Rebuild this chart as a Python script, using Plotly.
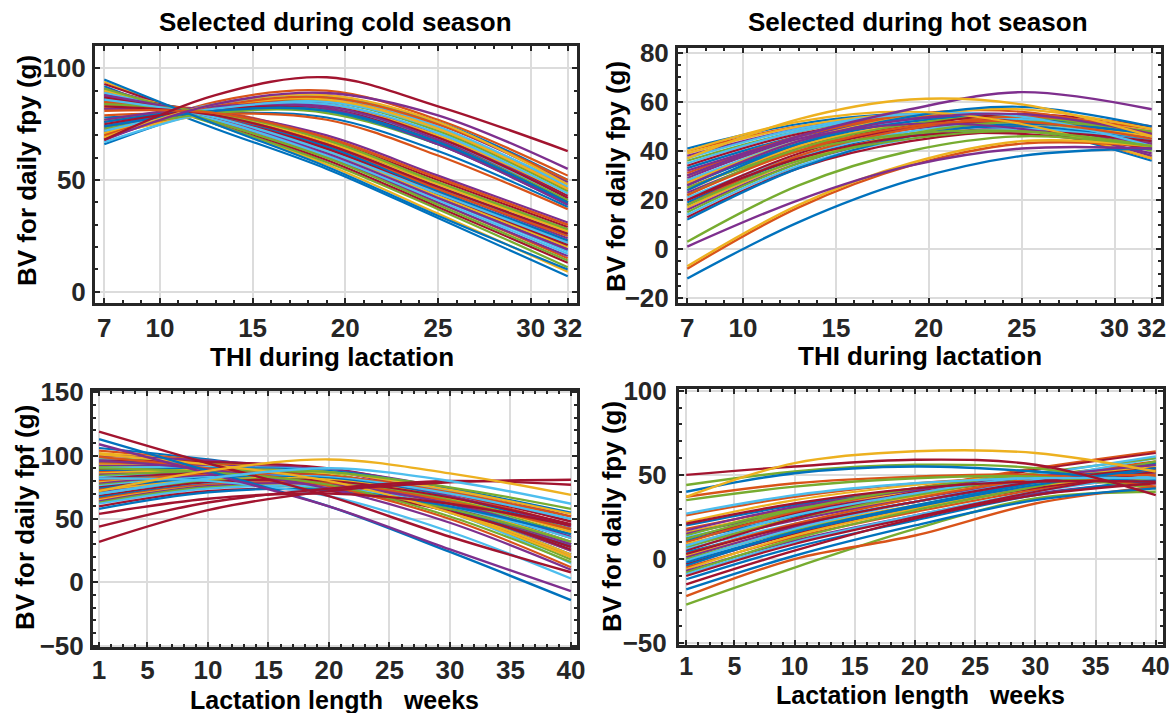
import itertools
import plotly.graph_objects as go

# MATLAB default line colour order
PALETTE = ["#0072BD", "#D95319", "#EDB120", "#7E2F8E", "#77AC30", "#4DBEEE", "#A2142F"]
C = dict(zip(["blue", "orange", "yellow", "purple", "green", "lightblue", "red"], PALETTE))

# ---------------- Selected during cold season : BV for daily fpy vs THI ----------------
thi_knots = [7, 13, 19, 25, 32]

cold_thi_upper = [
    [68, 85, 90, 77, 52], [70, 84, 88, 75, 49], [72, 84, 87, 74, 47], [66, 82, 87, 76, 50],
    [74, 83, 86, 72, 45], [71, 82, 85, 72, 45], [76, 83, 84, 70, 43], [69, 82, 86, 73, 46],
    [73, 82, 84, 70, 42], [75, 81, 82, 68, 41], [78, 80, 78, 63, 38], [70, 80, 83, 70, 44],
    [77, 81, 80, 66, 40], [72, 81, 83, 69, 42], [79, 80, 77, 61, 37], [74, 82, 83, 68, 40],
    [67, 81, 85, 73, 48], [76, 82, 81, 66, 39], [71, 83, 86, 73, 46], [73, 80, 81, 67, 41],
    [75, 82, 82, 67, 40], [70, 83, 87, 75, 50], [77, 83, 82, 66, 39], [72, 82, 84, 71, 44],
    [74, 81, 81, 67, 40], [69, 84, 88, 76, 48],
]
cold_thi_lower = [
    [92, 73, 55, 33, 7], [94, 75, 57, 35, 9], [90, 75, 58, 37, 11], [93, 76, 59, 38, 13],
    [89, 76, 60, 40, 15], [91, 77, 61, 40, 16], [88, 77, 62, 42, 18], [87, 78, 63, 43, 19],
    [90, 78, 63, 43, 20], [86, 78, 64, 44, 21], [88, 79, 64, 45, 22], [85, 78, 65, 45, 23],
    [87, 79, 65, 46, 24], [84, 79, 66, 47, 25], [86, 80, 66, 47, 26], [83, 79, 67, 48, 27],
    [85, 80, 67, 49, 28], [82, 80, 68, 50, 29], [84, 81, 69, 51, 30], [82, 80, 70, 52, 31],
    [89, 77, 61, 41, 17], [86, 79, 65, 45, 23], [83, 80, 67, 49, 27], [91, 76, 60, 39, 14],
    [87, 78, 64, 44, 21], [85, 79, 66, 46, 25], [88, 78, 62, 42, 19], [84, 80, 68, 49, 28],
    [86, 78, 63, 44, 22], [83, 79, 66, 47, 26], [95, 75, 56, 34, 10], [81, 80, 69, 51, 30],
]
cold_thi_special = [[68, 84, 89, 79, 55], [68, 88, 96, 83, 63]]
cold_thi_special_colors = ["purple", "red"]

# ---------------- Selected during hot season : BV for daily fpy vs THI ----------------
hot_thi_main = [
    [41, 51, 55, 50, 36], [40, 50, 54, 50, 37], [39, 50, 55, 52, 38], [38, 49, 54, 51, 38],
    [36, 48, 54, 52, 40], [35, 48, 55, 53, 41], [34, 47, 53, 52, 41], [33, 46, 53, 53, 43],
    [31, 46, 54, 54, 44], [30, 44, 51, 51, 42], [29, 45, 53, 54, 45], [28, 43, 50, 51, 42],
    [28, 44, 52, 53, 44], [27, 42, 50, 51, 43], [26, 43, 52, 54, 46], [25, 41, 49, 51, 43],
    [24, 42, 51, 54, 48], [23, 40, 49, 51, 44], [22, 41, 51, 54, 47], [21, 38, 48, 51, 44],
    [20, 39, 50, 55, 50], [19, 37, 47, 50, 44], [18, 38, 49, 54, 49], [17, 36, 47, 51, 46],
    [16, 35, 46, 49, 43], [15, 35, 47, 52, 48], [14, 34, 45, 49, 44], [13, 33, 44, 48, 44],
    [12, 33, 46, 51, 47], [30, 46, 55, 56, 47], [27, 44, 54, 57, 49], [32, 45, 51, 49, 39],
    [25, 40, 47, 48, 41], [37, 49, 55, 54, 42], [20, 37, 46, 47, 41], [24, 43, 54, 58, 50],
    [22, 40, 50, 52, 45], [40, 52, 56, 51, 37], [26, 44, 53, 55, 47], [18, 36, 45, 48, 42],
]
hot_thi_special = [
    [-12, 11, 28, 38, 41], [-8, 17, 34, 43, 42], [-7, 18, 35, 44, 42],
    [1, 20, 34, 41, 41], [3, 26, 40, 46, 42], [30, 46, 57, 64, 57], [37, 53, 61, 59, 46],
]
hot_thi_special_colors = ["blue", "orange", "yellow", "purple", "green", "purple", "yellow"]

# ---------------- Selected during cold season : BV for daily fpf vs lactation week ----------------
week_knots = [1, 10, 20, 30, 40]

cold_week_main = [
    [106, 97, 84, 60, 30], [104, 96, 85, 63, 35], [102, 95, 83, 58, 25], [100, 96, 88, 68, 40],
    [98, 94, 86, 65, 38], [97, 93, 85, 64, 36], [96, 95, 90, 72, 48], [95, 92, 84, 62, 32],
    [94, 93, 88, 70, 45], [93, 91, 85, 66, 40], [92, 92, 89, 74, 52], [91, 90, 84, 64, 35],
    [90, 91, 88, 72, 50], [89, 88, 82, 61, 30], [88, 90, 88, 74, 55], [87, 87, 81, 60, 28],
    [86, 89, 87, 73, 54], [85, 86, 80, 58, 25], [84, 88, 87, 75, 58], [83, 85, 80, 60, 30],
    [82, 86, 84, 70, 48], [81, 84, 79, 57, 22], [80, 85, 84, 71, 52], [79, 83, 79, 60, 32],
    [78, 84, 83, 68, 44], [77, 82, 78, 55, 18], [76, 83, 83, 70, 50], [75, 81, 78, 58, 26],
    [74, 82, 82, 67, 42], [73, 80, 77, 56, 20], [72, 81, 81, 66, 40], [71, 79, 77, 59, 30],
    [70, 80, 80, 65, 42], [69, 78, 76, 55, 15], [68, 79, 80, 67, 46], [67, 77, 75, 57, 28],
    [66, 77, 78, 64, 42], [65, 76, 75, 56, 22], [64, 76, 77, 62, 36], [63, 75, 74, 58, 32],
    [62, 74, 75, 60, 35], [60, 72, 72, 56, 28], [58, 71, 73, 60, 38], [99, 90, 76, 50, 12],
    [101, 93, 80, 55, 20], [96, 89, 74, 47, 10], [90, 87, 77, 52, 16], [82, 80, 68, 40, 3],
]
cold_week_special = [
    [119, 94, 68, 36, 8], [113, 88, 60, 24, -14], [109, 86, 60, 26, -7],
    [32, 57, 72, 79, 81], [44, 63, 74, 80, 77], [54, 66, 70, 62, 45],
    [72, 88, 97, 86, 69], [70, 82, 90, 80, 62],
]
cold_week_special_colors = ["red", "blue", "purple", "red", "red", "red", "yellow", "lightblue"]

# ---------------- Selected during hot season : BV for daily fpy vs lactation week ----------------
hot_week_main = [
    [20, 32, 42, 48, 50], [18, 30, 40, 47, 50], [16, 29, 40, 48, 52], [15, 28, 39, 47, 51],
    [14, 30, 42, 50, 54], [13, 26, 37, 45, 48], [12, 27, 39, 48, 53], [11, 25, 37, 46, 50],
    [10, 28, 42, 54, 64], [9, 24, 37, 47, 54], [8, 23, 36, 46, 52], [7, 24, 38, 49, 57],
    [6, 21, 34, 44, 49], [5, 24, 40, 53, 63], [4, 20, 34, 45, 52], [3, 21, 36, 48, 58],
    [2, 18, 32, 43, 50], [1, 19, 34, 46, 56], [0, 17, 31, 42, 48], [-1, 18, 34, 47, 60],
    [-3, 15, 30, 42, 50], [-4, 16, 32, 45, 57], [-5, 13, 28, 41, 49], [-6, 14, 30, 44, 55],
    [-7, 11, 26, 39, 46], [-8, 12, 29, 43, 58], [-9, 10, 26, 40, 50], [-10, 9, 25, 40, 52],
    [-12, 7, 23, 38, 47], [26, 37, 45, 49, 50], [22, 35, 44, 50, 54], [17, 31, 41, 49, 56],
    [12, 29, 42, 51, 60], [8, 26, 39, 50, 61], [3, 20, 34, 46, 54], [-2, 16, 31, 44, 54],
]
hot_week_special = [
    [44, 52, 56, 54, 42], [40, 51, 55, 52, 45], [37, 45, 49, 50, 43], [35, 43, 48, 49, 42],
    [27, 38, 45, 48, 48], [21, 33, 42, 46, 46], [-27, -5, 18, 36, 40], [-22, 0, 14, 33, 43],
    [-18, 2, 20, 35, 42], [-15, 5, 24, 38, 45], [50, 55, 59, 56, 38], [37, 57, 64, 63, 52],
]
hot_week_special_colors = ["green", "blue", "orange", "green", "lightblue", "red",
                           "green", "orange", "blue", "red", "red", "yellow"]

FONT = "Liberation Sans, Arial, sans-serif"
INK = "#262626"
W, H = 1172, 713

fig = go.Figure()


def dom_x(a, b):
    return [a / W, b / W]


def dom_y(top, bottom):
    return [1 - bottom / H, 1 - top / H]


def add_panel(idx, knots, main, special, special_colors):
    ax = "" if idx == 1 else str(idx)
    for i, vals in enumerate(main):
        fig.add_trace(go.Scatter(
            x=knots, y=vals, mode="lines", xaxis="x" + ax, yaxis="y" + ax,
            line=dict(color=PALETTE[i % 7], width=2.2, shape="spline", smoothing=1.0),
            showlegend=False, hoverinfo="skip"))
    for vals, cname in zip(special, special_colors):
        fig.add_trace(go.Scatter(
            x=knots, y=vals, mode="lines", xaxis="x" + ax, yaxis="y" + ax,
            line=dict(color=C[cname], width=2.4, shape="spline", smoothing=1.0),
            showlegend=False, hoverinfo="skip"))


cold_thi_main = [c for pair in itertools.zip_longest(cold_thi_lower, cold_thi_upper)
                 for c in pair if c is not None]

add_panel(1, thi_knots, cold_thi_main, cold_thi_special, cold_thi_special_colors)
add_panel(2, thi_knots, hot_thi_main, hot_thi_special, hot_thi_special_colors)
add_panel(3, week_knots, cold_week_main, cold_week_special, cold_week_special_colors)
add_panel(4, week_knots, hot_week_main, hot_week_special, hot_week_special_colors)


def axis(domain, rng, tickvals, minor_vals, anchor, standoff, size=26):
    return dict(
        domain=domain, range=rng, anchor=anchor, automargin=False,
        tickmode="array", tickvals=tickvals,
        ticks="inside", ticklen=5, tickwidth=2, tickcolor=INK,
        showline=True, linewidth=3, linecolor=INK, mirror="ticks",
        showgrid=True, gridcolor="#dcdcdc", gridwidth=2, zeroline=False,
        tickfont=dict(family=FONT, size=size, color=INK, weight="bold"),
        ticklabelstandoff=standoff,
        minor=dict(tickmode="array", tickvals=minor_vals, ticks="inside", ticklen=3,
                   tickwidth=1.5, tickcolor=INK, showgrid=False),
    )


thi_ticks = [7, 10, 15, 20, 25, 30, 32]
thi_minor = list(range(7, 33))
week_ticks = [1, 5, 10, 15, 20, 25, 30, 35, 40]
week_minor = list(range(1, 41))

fig.update_layout(
    width=W, height=H, margin=dict(l=0, r=0, t=0, b=0, autoexpand=False),
    paper_bgcolor="white", plot_bgcolor="white",
    xaxis=axis(dom_x(95, 577), [6.5, 32.5], thi_ticks, thi_minor, "y", 0),
    yaxis=axis(dom_y(46, 303), [-5, 110], [0, 50, 100], list(range(0, 110, 10)), "x", 1),
    xaxis2=axis(dom_x(678, 1161), [6.5, 32.5], thi_ticks, thi_minor, "y2", 0),
    yaxis2=axis(dom_y(48, 303), [-22, 82], [-20, 0, 20, 40, 60, 80], list(range(-20, 85, 5)), "x2", 1),
    xaxis3=axis(dom_x(93, 577), [0.5, 40.5], week_ticks, week_minor, "y3", -2),
    yaxis3=axis(dom_y(391, 647), [-51, 151], [-50, 0, 50, 100, 150], list(range(-50, 151, 10)), "x3", 1),
    xaxis4=axis(dom_x(679, 1163), [0.4, 40.6], week_ticks, week_minor, "y4", -3, 25),
    yaxis4=axis(dom_y(389, 645), [-51, 101], [-50, 0, 50, 100], list(range(-50, 101, 10)), "x4", 4),
)


def label(text, x, y, size, angle=0):
    fig.add_annotation(
        text=text, x=x / W, y=1 - y / H, xref="paper", yref="paper",
        showarrow=False, textangle=angle, xanchor="center", yanchor="middle",
        font=dict(family=FONT, size=size, color="black", weight="bold"))


# panel titles
label("Selected during cold season", 335, 22, 26)
label("Selected during hot season", 918, 22, 26)
# x-axis titles
label("THI during lactation", 332, 357, 26)
label("THI during lactation", 920, 356, 26)
label("Lactation length   weeks", 334, 700, 25)
label("Lactation length   weeks", 920, 695, 25)
# y-axis titles
label("BV for daily fpy (g)", 27, 171, 26, -90)
label("BV for daily fpy (g)", 616, 177, 26, -90)
label("BV for daily fpf (g)", 25, 518, 26, -90)
label("BV for daily fpy (g)", 612, 517, 26, -90)

fig.write_html("out.html")
